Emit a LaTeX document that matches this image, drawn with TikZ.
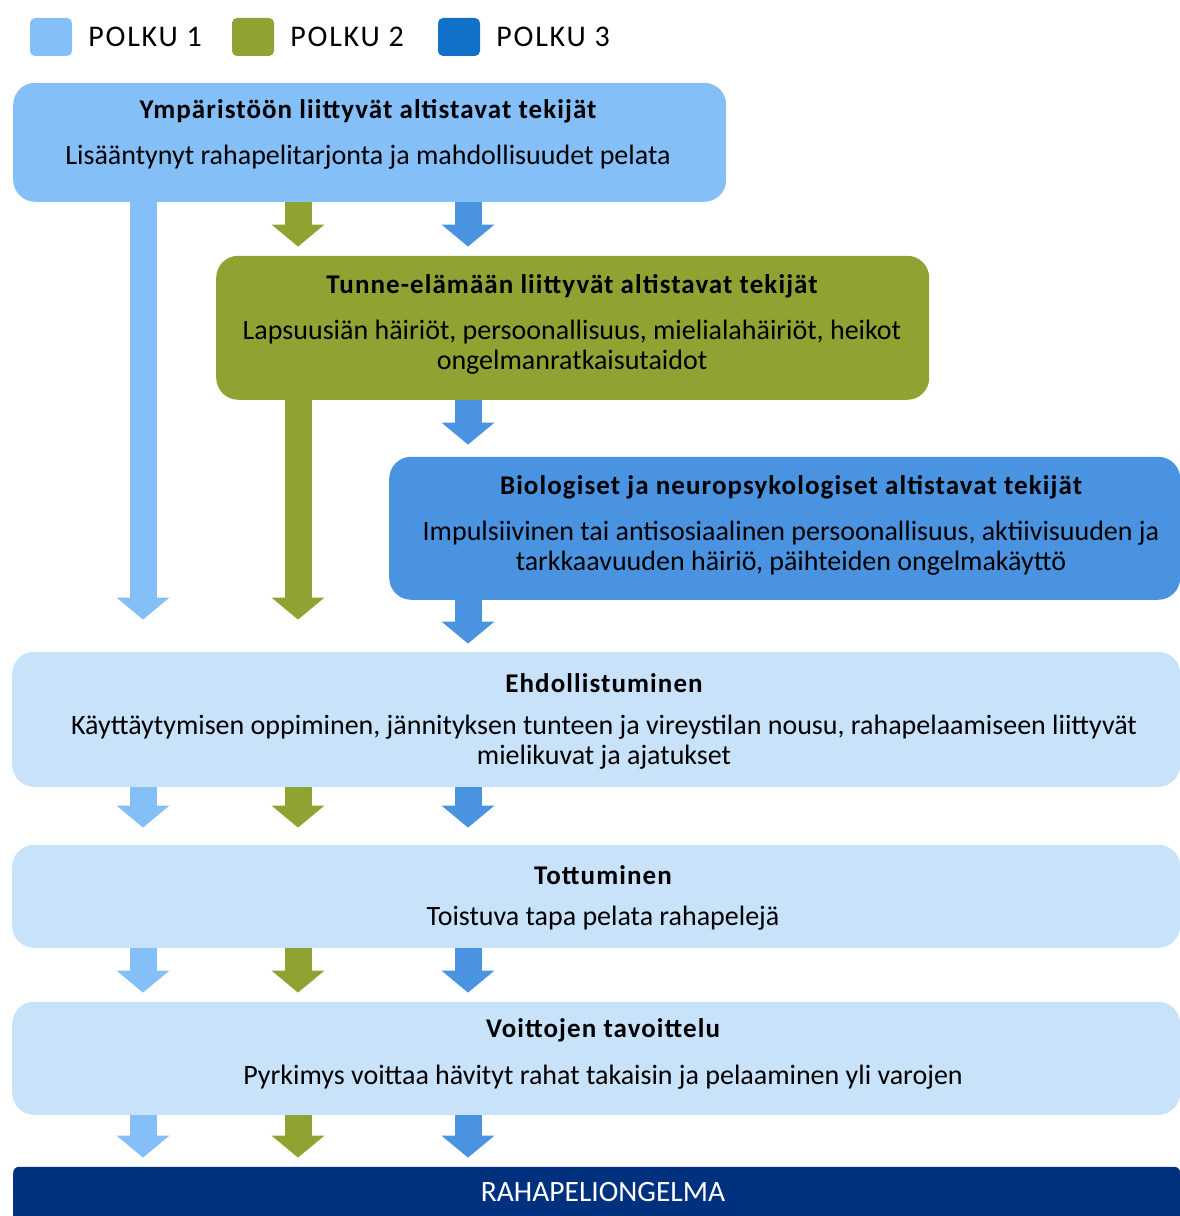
\documentclass[tikz,border=0pt]{standalone}
\usepackage{fontspec}
\setmainfont{Carlito}
\newfontfamily\otsikkofont[LetterSpace=4]{Carlito}
\newfontfamily\selitefont[LetterSpace=6]{Carlito}
\usepackage{tikz}
\usetikzlibrary{arrows.meta, positioning}

\definecolor{polkuA}{HTML}{85BFF7}
\definecolor{polkuB}{HTML}{8FA333}
\definecolor{polkuC}{HTML}{4A93E0}
\definecolor{polkuCtumma}{HTML}{1170C8}
\definecolor{vaihe}{HTML}{C8E2FA}
\definecolor{ongelma}{HTML}{00317F}

\begin{document}
\begin{tikzpicture}[x=1pt, y=1pt,
    laatikko/.style={rounded corners=22pt, anchor=south west, inner sep=0pt},
    otsikko/.style={font=\otsikkofont\fontsize{27}{30}\selectfont\bfseries, inner sep=0pt},
    teksti/.style={font=\fontsize{28}{30}\selectfont, align=center, inner sep=0pt},
    merkki/.style={rounded corners=5pt, minimum width=42pt, minimum height=38pt, inner sep=0pt},
    selite/.style={font=\selitefont\fontsize{30}{30}\selectfont, inner sep=0pt},
    polku/.style={line width=27pt, -{Triangle[width=53pt, length=22pt, line width=0pt]}}
]
    \useasboundingbox (0,0) rectangle (1180,1216);
    % Legend
    \node[merkki, fill=polkuA] (m1) at (51,1179) {};
    \node[selite, right=16pt of m1] (s1) {POLKU 1};
    \node[merkki, fill=polkuB] (m2) at (253,1179) {};
    \node[selite, right=16pt of m2] (s2) {POLKU 2};
    \node[merkki, fill=polkuCtumma] (m3) at (459,1179) {};
    \node[selite, right=16pt of m3] (s3) {POLKU 3};
    % Boxes
    \node[laatikko, fill=polkuA, minimum width=713pt, minimum height=119pt] (ymp) at (13,1014) {};
    \node[laatikko, fill=polkuB, minimum width=713pt, minimum height=144pt] (tun) at (216,816) {};
    \node[laatikko, fill=polkuC, minimum width=791pt, minimum height=143pt] (bio) at (389,616) {};
    \node[laatikko, fill=vaihe, minimum width=1168pt, minimum height=135pt] (ehd) at (12,429) {};
    \node[laatikko, fill=vaihe, minimum width=1168pt, minimum height=103pt] (tot) at (12,268) {};
    \node[laatikko, fill=vaihe, minimum width=1168pt, minimum height=113pt] (voi) at (12,101) {};
    \node[laatikko, fill=ongelma, rounded corners=6pt, minimum width=1167pt, minimum height=60pt] (rah) at (13,-11) {};
    % Box texts
    \node[otsikko] (ympO) at (368,1105) {Ympäristöön liittyvät altistavat tekijät};
    \node[teksti] (ympT) at (368,1059) {Lisääntynyt rahapelitarjonta ja mahdollisuudet pelata};
    \node[otsikko] (tunO) at (572,930) {Tunne-elämään liittyvät altistavat tekijät};
    \node[teksti] (tunT) at (572,869) {Lapsuusiän häiriöt, persoonallisuus, mielialahäiriöt, heikot\\ongelmanratkaisutaidot};
    \node[otsikko] (bioO) at (791,729) {Biologiset ja neuropsykologiset altistavat tekijät};
    \node[teksti] (bioT) at (791,668) {Impulsiivinen tai antisosiaalinen persoonallisuus, aktiivisuuden ja\\tarkkaavuuden häiriö, päihteiden ongelmakäyttö};
    \node[otsikko] (ehdO) at (604,533) {Ehdollistuminen};
    \node[teksti] (ehdT) at (604,474) {Käyttäytymisen oppiminen, jännityksen tunteen ja vireystilan nousu, rahapelaamiseen liittyvät\\mielikuvat ja ajatukset};
    \node[otsikko] (totO) at (603,341) {Tottuminen};
    \node[teksti] (totT) at (603,298) {Toistuva tapa pelata rahapelejä};
    \node[otsikko] (voiO) at (603,186) {Voittojen tavoittelu};
    \node[teksti] (voiT) at (603,139) {Pyrkimys voittaa hävityt rahat takaisin ja pelaaminen yli varojen};
    \node[teksti, text=white, font=\fontsize{29.5}{30}\selectfont] (rahT) at (603,24) {RAHAPELIONGELMA};
    % Path columns
    \coordinate (pA) at (143,0);
    \coordinate (pB) at (298,0);
    \coordinate (pC) at (468,0);
    % Arrows
    \draw[polku, color=polkuA, shorten >=32pt] (ymp.south -| pA) -- (ehd.north -| pA);
    \draw[polku, color=polkuB, shorten >=9pt] (ymp.south -| pB) -- (tun.north -| pB);
    \draw[polku, color=polkuC, shorten >=9pt] (ymp.south -| pC) -- (tun.north -| pC);
    \draw[polku, color=polkuB, shorten >=32pt] (tun.south -| pB) -- (ehd.north -| pB);
    \draw[polku, color=polkuC, shorten >=12pt] (tun.south -| pC) -- (bio.north -| pC);
    \draw[polku, color=polkuC, shorten >=8pt] (bio.south -| pC) -- (ehd.north -| pC);
    \draw[polku, color=polkuA, shorten >=17pt] (ehd.south -| pA) -- (tot.north -| pA);
    \draw[polku, color=polkuB, shorten >=17pt] (ehd.south -| pB) -- (tot.north -| pB);
    \draw[polku, color=polkuC, shorten >=17pt] (ehd.south -| pC) -- (tot.north -| pC);
    \draw[polku, color=polkuA, shorten >=9pt] (tot.south -| pA) -- (voi.north -| pA);
    \draw[polku, color=polkuB, shorten >=9pt] (tot.south -| pB) -- (voi.north -| pB);
    \draw[polku, color=polkuC, shorten >=9pt] (tot.south -| pC) -- (voi.north -| pC);
    \draw[polku, color=polkuA, shorten >=9pt] (voi.south -| pA) -- (rah.north -| pA);
    \draw[polku, color=polkuB, shorten >=9pt] (voi.south -| pB) -- (rah.north -| pB);
    \draw[polku, color=polkuC, shorten >=9pt] (voi.south -| pC) -- (rah.north -| pC);
\end{tikzpicture}
\end{document}
